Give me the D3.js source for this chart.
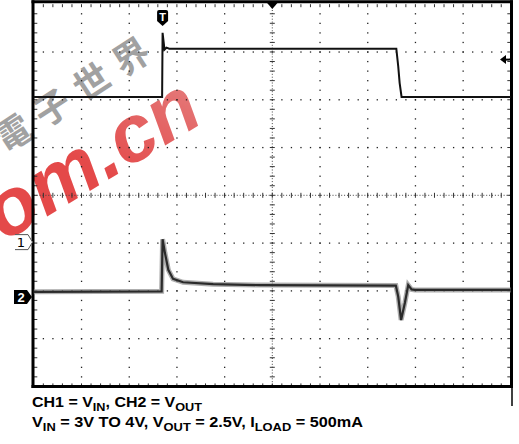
<!DOCTYPE html>
<html>
<head>
<meta charset="utf-8">
<script src="https://cdn.jsdelivr.net/npm/d3@7"></script>
<style>
  html, body { margin: 0; padding: 0; background: #fff; }
  svg { display: block; }
</style>
</head>
<body>
<div id="chart"></div>
<script>
// values are in screen divisions (10 horizontal, 8 vertical, 0 = centre line)
const ch1Time = [0, 2.69, 2.70, 2.74, 2.78, 2.84, 7.60, 7.64, 7.67, 7.71, 10];
const ch1Level = [2.06, 2.06, 3.40, 3.05, 3.09, 3.07, 3.07, 2.70, 2.35, 2.06, 2.06];

const ch2Time = [0, 2.68, 2.70, 2.75, 2.82, 2.92, 3.13, 3.76, 4.74, 7.59, 7.64, 7.70, 7.78, 7.85, 7.92, 7.99, 10];
const ch2Level = [-2.02, -2.01, -0.92, -1.21, -1.56, -1.75, -1.82, -1.86, -1.88, -1.89, -2.12, -2.61, -2.25, -1.88, -1.97, -1.98, -1.98];

const triggerTime = 2.70;
const triggerLevel = 2.84;
const ch1Ground = -0.98;
const ch2Ground = -2.13;

const captionLines = [
  [["CH1 = V", ""], ["IN", "sub"], [", CH2 = V", ""], ["OUT", "sub"]],
  [["V", ""], ["IN", "sub"], [" = 3V TO 4V, V", ""], ["OUT", "sub"], [" = 2.5V, I", ""], ["LOAD", "sub"], [" = 500mA", ""]],
];
const captionWidths = [170, 331];

const width = 519;
const height = 444;

const svg = d3.select("#chart").append("svg")
  .attr("width", width)
  .attr("height", height)
  .attr("viewBox", `0 0 ${width} ${height}`);

const x = d3.scaleLinear().domain([0, 10]).range([33.8, 510.8]);
const y = d3.scaleLinear().domain([-4, 4]).range([386.4, 4.2]);

// watermark
const grad = svg.append("defs").append("linearGradient")
  .attr("id", "wm").attr("gradientUnits", "userSpaceOnUse")
  .attr("x1", 0).attr("y1", 200).attr("x2", 200).attr("y2", 90);
grad.append("stop").attr("offset", 0).attr("stop-color", "#e02a2a");
grad.append("stop").attr("offset", 0.45).attr("stop-color", "#e05a5a");
grad.append("stop").attr("offset", 1).attr("stop-color", "#eda3a3");

const wm = svg.append("g").attr("pointer-events", "none");
wm.append("text")
  .attr("transform", "translate(206,121) rotate(-31)")
  .attr("text-anchor", "end")
  .attr("font-family", "Liberation Sans, Arial, sans-serif")
  .attr("font-weight", "bold")
  .attr("font-style", "italic")
  .attr("font-size", 80)
  .attr("fill", "url(#wm)")
  .attr("opacity", 0.85)
  .text("om.cn");
wm.append("text")
  .attr("transform", "translate(5,154) rotate(-33)")
  .attr("font-family", "Noto Sans CJK SC, sans-serif")
  .attr("font-weight", "bold")
  .attr("font-size", 36)
  .attr("letter-spacing", 11)
  .attr("fill", "#8a8a8a")
  .attr("opacity", 0.8)
  .text("電子世界");

// graticule
const grid = svg.append("g");
const minorX = d3.range(1, 50).map((k) => k / 5);
const minorY = d3.range(-19, 20).map((k) => k / 5);

[1, 2, 3, 4, 6, 7, 8, 9].forEach((d) => {
  grid.selectAll(null).data(minorY).enter().append("rect")
    .attr("x", x(d) - 0.6).attr("y", (v) => y(v) - 0.6)
    .attr("width", 1.3).attr("height", 1.3).attr("fill", "#222");
});
[-3, -2, -1, 1, 2, 3].forEach((d) => {
  grid.selectAll(null).data(minorX).enter().append("rect")
    .attr("x", (v) => x(v) - 0.6).attr("y", y(d) - 0.6)
    .attr("width", 1.3).attr("height", 1.3).attr("fill", "#222");
});

// centre axes
grid.append("line")
  .attr("x1", x(5)).attr("x2", x(5)).attr("y1", y(4)).attr("y2", y(-4))
  .attr("stroke", "#444").attr("stroke-width", 1).attr("stroke-dasharray", "1,1.9");
grid.append("line")
  .attr("x1", x(0)).attr("x2", x(10)).attr("y1", y(0)).attr("y2", y(0))
  .attr("stroke", "#444").attr("stroke-width", 1).attr("stroke-dasharray", "1,1.9");
grid.selectAll(null).data(minorY).enter().append("line")
  .attr("x1", x(5) - 2.5).attr("x2", x(5) + 2.5)
  .attr("y1", (v) => y(v)).attr("y2", (v) => y(v))
  .attr("stroke", "#333").attr("stroke-width", 1);
grid.selectAll(null).data(minorX).enter().append("line")
  .attr("x1", (v) => x(v)).attr("x2", (v) => x(v))
  .attr("y1", y(0) - 2.5).attr("y2", y(0) + 2.5)
  .attr("stroke", "#333").attr("stroke-width", 1);

// edge ticks
grid.selectAll(null).data(minorX).enter().append("line")
  .attr("x1", (v) => x(v)).attr("x2", (v) => x(v))
  .attr("y1", y(-4) - 3).attr("y2", y(-4))
  .attr("stroke", "#333").attr("stroke-width", 1);
grid.selectAll(null).data(minorX).enter().append("line")
  .attr("x1", (v) => x(v)).attr("x2", (v) => x(v))
  .attr("y1", y(4)).attr("y2", y(4) + 3)
  .attr("stroke", "#333").attr("stroke-width", 1);
grid.selectAll(null).data(minorY).enter().append("line")
  .attr("x1", x(0)).attr("x2", x(0) + 3.5)
  .attr("y1", (v) => y(v)).attr("y2", (v) => y(v))
  .attr("stroke", "#333").attr("stroke-width", 1);
grid.selectAll(null).data(minorY).enter().append("line")
  .attr("x1", x(10) - 3.5).attr("x2", x(10))
  .attr("y1", (v) => y(v)).attr("y2", (v) => y(v))
  .attr("stroke", "#333").attr("stroke-width", 1);

// frame
const frame = svg.append("g").attr("stroke", "#000").attr("stroke-width", 3);
frame.append("line").attr("x1", 31.5).attr("x2", 513).attr("y1", 1.8).attr("y2", 1.8);
frame.append("line").attr("x1", 31.5).attr("x2", 513).attr("y1", 386.6).attr("y2", 386.6);
frame.append("line").attr("x1", 33).attr("x2", 33).attr("y1", 0.3).attr("y2", 388);
frame.append("line").attr("x1", 511.5).attr("x2", 511.5).attr("y1", 0.3).attr("y2", 388);
svg.append("line").attr("x1", 512).attr("x2", 512).attr("y1", 388).attr("y2", 406)
  .attr("stroke", "#000").attr("stroke-width", 1.5);

// traces
const line = d3.line().x((d) => x(d[0])).y((d) => y(d[1]));
const ch1 = ch1Time.map((t, i) => [t, ch1Level[i]]);
const ch2 = ch2Time.map((t, i) => [t, ch2Level[i]]);

svg.append("path").datum(ch2).attr("d", line)
  .attr("fill", "none").attr("stroke", "#8c8c8c").attr("stroke-width", 5).attr("opacity", 0.7);
svg.append("path").datum(ch2).attr("d", line)
  .attr("fill", "none").attr("stroke", "#2a2a2a").attr("stroke-width", 2.2);

svg.append("path").datum(ch1).attr("d", line)
  .attr("fill", "none").attr("stroke", "#111").attr("stroke-width", 2)
  .attr("stroke-linejoin", "miter");

// markers
const tx = x(triggerTime);
const mk = svg.append("g");
mk.append("path")
  .attr("d", `M${tx - 5.5},12 Q${tx - 5.5},10 ${tx - 3.5},10 L${tx + 3.5},10 Q${tx + 5.5},10 ${tx + 5.5},12 L${tx + 5.5},21 L${tx},26 L${tx - 5.5},21 Z`)
  .attr("fill", "#000");
mk.append("text").attr("x", tx).attr("y", 21)
  .attr("text-anchor", "middle").attr("font-family", "Liberation Sans, Arial, sans-serif")
  .attr("font-weight", "bold").attr("font-size", 11).attr("fill", "#fff").text("T");

mk.append("path")
  .attr("d", `M${x(5) - 6},2 L${x(5) + 6},2 L${x(5)},9 Z`).attr("fill", "#000");

const ty = y(triggerLevel);
mk.append("path").attr("d", `M500,${ty} L506,${ty - 4.5} L506,${ty + 4.5} Z`).attr("fill", "#000");
mk.append("line").attr("x1", 505).attr("x2", 510).attr("y1", ty).attr("y2", ty)
  .attr("stroke", "#000").attr("stroke-width", 2);

const g1 = y(ch1Ground);
mk.append("path")
  .attr("d", `M15,${g1 - 7.5} L28,${g1 - 7.5} L32.5,${g1} L28,${g1 + 7.5} L15,${g1 + 7.5}`)
  .attr("fill", "#fff").attr("stroke", "#555").attr("stroke-width", 1);
mk.append("text").attr("x", 21).attr("y", g1 + 5)
  .attr("text-anchor", "middle").attr("font-family", "DejaVu Sans, sans-serif")
  .attr("font-size", 13).attr("fill", "#000").text("1");

const g2 = y(ch2Ground);
mk.append("path")
  .attr("d", `M14,${g2 - 7} L27,${g2 - 7} L32,${g2} L27,${g2 + 7} L14,${g2 + 7} Z`)
  .attr("fill", "#000");
mk.append("text").attr("x", 21).attr("y", g2 + 5)
  .attr("text-anchor", "middle").attr("font-family", "Liberation Sans, Arial, sans-serif")
  .attr("font-weight", "bold").attr("font-size", 13).attr("fill", "#fff").text("2");

// caption
captionLines.forEach((parts, i) => {
  const t = svg.append("text")
    .attr("x", 32).attr("y", 407 + i * 20)
    .attr("font-family", "Liberation Sans, Arial, sans-serif")
    .attr("font-weight", "bold").attr("font-size", 14.5).attr("fill", "#000")
    .attr("textLength", captionWidths[i]).attr("lengthAdjust", "spacingAndGlyphs");
  let sub = false;
  parts.forEach(([s, kind]) => {
    const span = t.append("tspan").text(s);
    if (kind === "sub") {
      span.attr("font-size", 11.5);
      if (!sub) span.attr("dy", 3.5);
      sub = true;
    } else if (sub) {
      span.attr("dy", -3.5);
      sub = false;
    }
  });
});
</script>
</body>
</html>
